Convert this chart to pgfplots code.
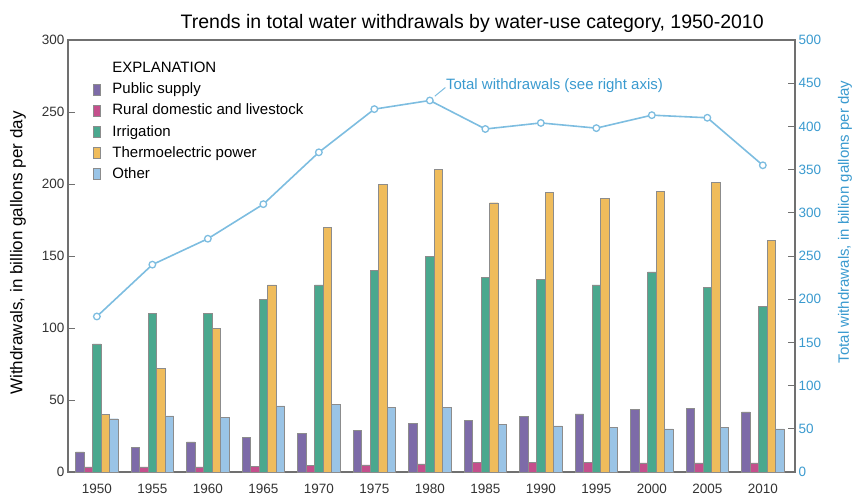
\documentclass[border=0pt]{standalone}
\usepackage{pgfplots}
\pgfplotsset{compat=1.18}
\usepackage{fontspec}
\setmainfont{Liberation Sans}

\definecolor{pubsup}{HTML}{7D6BA8}
\definecolor{rural}{HTML}{C44F8C}
\definecolor{irrig}{HTML}{4AA88E}
\definecolor{thermo}{HTML}{EFBC5C}
\definecolor{other}{HTML}{9AC4E6}
\definecolor{totline}{HTML}{7DBDE0}
\definecolor{rightblue}{HTML}{3A9ACF}
\definecolor{axgray}{HTML}{707070}

\pgfplotsset{
  common/.style={
    scale only axis,
    width=727pt, height=432pt,
    xmin=1947.4, xmax=2012.9,
    axis line style={axgray, line width=1.2pt},
    tick style={axgray, line width=1pt},
    major tick length=7pt,
    /pgf/number format/assume math mode=true,
    /pgf/number format/1000 sep={},
    tick label style={font=\fontsize{13.5}{15}\selectfont, text=black!80},
  },
  barstyle/.style={draw=black!45, line width=0.4pt, fill=#1},
}

\begin{document}
\begin{tikzpicture}
\path[use as bounding box] (-68pt,-27pt) rectangle (785pt,472pt);
\begin{axis}[
  common,
  at={(0,0)}, anchor=south west,
  ymin=0, ymax=300,
  ytick={0,50,...,300},
  ytick pos=left,
  xtick={1950,1955,...,2010},
  xtick style={draw=none},
  x tick label style={yshift=-2pt},
  ybar=0pt, bar width=8.5pt,
  ylabel={Withdrawals, in billion gallons per day},
  ylabel style={font=\fontsize{17}{19}\selectfont, at={(axis description cs:-0.0688,0.507)}, anchor=center},
  title={Trends in total water withdrawals by water-use category, 1950-2010},
  title style={font=\fontsize{19.5}{22}\selectfont, at={(0.556,1)}, anchor=south, yshift=-2pt},
  legend style={at={(0.030,0.958)}, anchor=north west, draw=none, fill=none,
    font=\fontsize{15}{17}\selectfont, row sep=4.7pt,
    cells={anchor=west}},
  legend image code/.code={\fill[#1] (0pt,-5.5pt) rectangle (7pt,5.5pt); \path (17pt,0pt);},
]
\addlegendimage{empty legend}
\addplot[barstyle=pubsup] coordinates {
  (1950,14) (1955,17) (1960,21) (1965,24) (1970,27) (1975,29) (1980,34)
  (1985,36) (1990,38.7) (1995,40.3) (2000,43.3) (2005,44.4) (2010,41.8)};
\addplot[barstyle=rural] coordinates {
  (1950,3.6) (1955,3.6) (1960,3.6) (1965,4) (1970,4.5) (1975,4.9) (1980,5.6)
  (1985,6.5) (1990,6.5) (1995,6.5) (2000,6.3) (2005,6.3) (2010,6.3)};
\addplot[barstyle=irrig] coordinates {
  (1950,89) (1955,110) (1960,110) (1965,120) (1970,130) (1975,140) (1980,150)
  (1985,135) (1990,134) (1995,130) (2000,139) (2005,128) (2010,115)};
\addplot[barstyle=thermo] coordinates {
  (1950,40) (1955,72) (1960,100) (1965,130) (1970,170) (1975,200) (1980,210)
  (1985,187) (1990,194) (1995,190) (2000,195) (2005,201) (2010,161)};
\addplot[barstyle=other] coordinates {
  (1950,37) (1955,39) (1960,38) (1965,46) (1970,47) (1975,45) (1980,45)
  (1985,33) (1990,32) (1995,31) (2000,30) (2005,31) (2010,30)};
\legend{EXPLANATION, Public supply, Rural domestic and livestock, Irrigation,
  Thermoelectric power, Other}
\end{axis}

\begin{axis}[
  common,
  at={(0,0)}, anchor=south west,
  ymin=0, ymax=500,
  ytick={0,50,...,500},
  axis y line*=right,
  axis x line=none,
  y tick label style={text=rightblue},
  ylabel={Total withdrawals, in billion gallons per day},
  ylabel style={font=\fontsize{15}{17}\selectfont, text=rightblue,
    at={(axis description cs:1.0688,0.579)}, anchor=center},
  clip=false,
]
\addplot[totline, line width=1.6pt, mark=*, mark size=3.3pt,
  mark options={fill=white, draw=totline, line width=1.3pt}] coordinates {
  (1950,180) (1955,240) (1960,270) (1965,310) (1970,370) (1975,420) (1980,430)
  (1985,397) (1990,404) (1995,398) (2000,413) (2005,410) (2010,355)};
\draw[totline, line width=1pt] (axis cs:1980.45,435) -- (axis cs:1981.4,445);
\node[anchor=west, inner sep=0pt, text=rightblue, font=\fontsize{15}{17}\selectfont]
  at (axis cs:1981.45,447) {Total withdrawals (see right axis)};
\end{axis}
\end{tikzpicture}
\end{document}
